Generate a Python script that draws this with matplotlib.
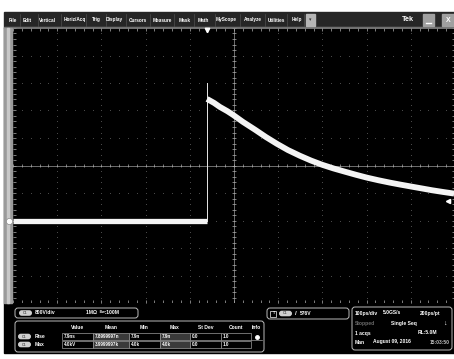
import numpy as np
import matplotlib.pyplot as plt
from matplotlib.patches import Rectangle, FancyBboxPatch

# waveform (time in ps, amplitude in V)
base_t = [-500, -61]
base_v = [0, 0]
rise_t = [-61, -61]
rise_v = [0, 4000]
decay_t = [-61, -45, -32, -15, -2, 20, 48, 72, 97, 122, 149, 174, 199, 225, 251,
           276, 301, 327, 353, 376, 400, 424, 448, 473, 498]
decay_v = [3536, 3420, 3304, 3180, 3072, 2870, 2638, 2430, 2232, 2050, 1884, 1745, 1623,
           1515, 1420, 1330, 1246, 1170, 1101, 1045, 990, 935, 880, 830, 783]
trig_level = 576
volts_div = 800
time_div = 100

menu_items = ['File', 'Edit', 'Vertical', 'Horiz/Acq', 'Trig', 'Display', 'Cursors',
              'Measure', 'Mask', 'Math', 'MyScope', 'Analyze', 'Utilities', 'Help']
menu_x = [13, 27.5, 47.5, 74.5, 96.5, 114.5, 138, 162.5, 185, 203.5, 226.5, 253, 276.5, 296.5]

meas_cols = ['Value', 'Mean', 'Min', 'Max', 'St Dev', 'Count', 'Info']
meas_rows = ['Rise', 'Max']
meas_vals = [['7.9ns', '7.8999997n', '7.9n', '7.9n', '0.0', '1.0'],
             ['4.0kV', '3.9999997k', '4.0k', '4.0k', '0.0', '1.0']]

FONT = 'Liberation Sans'

fig = plt.figure(figsize=(4.54, 3.59), dpi=100, facecolor='white')

# screen chrome in pixel coordinates
ui = fig.add_axes([0, 0, 1, 1])
ui.set_xlim(0, 454)
ui.set_ylim(359, 0)
ui.axis('off')

ui.add_patch(Rectangle((4, 12), 450, 16, color='#262626'))
ui.add_patch(Rectangle((4, 27), 450, 1, color='#8c8c8c'))
ui.add_patch(Rectangle((4, 28), 450, 325, color='black'))
ui.add_patch(Rectangle((4, 28), 8, 275, color='#9a9a9a'))
ui.add_patch(Rectangle((7, 28), 2, 275, color='#c8c8c8'))

for name, x in zip(menu_items, menu_x):
    ui.text(x, 20, name, color='white', fontsize=3.4, fontweight='bold',
            family=FONT, ha='center', va='center')
seps = [(menu_x[i] + menu_x[i + 1]) / 2 for i in range(len(menu_x) - 1)] + [304]
for s in seps:
    ui.plot([s, s], [14, 26], color='#5a5a5a', lw=0.4)
ui.add_patch(Rectangle((306, 14), 9, 12, color='#b5b5b5'))
ui.text(310.5, 20, '\u25be', color='#333333', fontsize=3.5, ha='center', va='center')
ui.text(408, 19.5, 'Tek', color='white', fontsize=5.2, fontweight='bold',
        family=FONT, ha='center', va='center')
ui.add_patch(Rectangle((423, 14), 11, 12, color='#a0a0a0'))
ui.add_patch(Rectangle((442, 14), 12, 12, color='#a0a0a0'))
ui.plot([426, 431], [23, 23], color='white', lw=1)
ui.text(448, 20, 'X', color='white', fontsize=5, fontweight='bold',
        family=FONT, ha='center', va='center')


def box(x, y, w, h, ec='#bdbdbd', fc='black', r=3, lw=0.7):
    ui.add_patch(FancyBboxPatch((x, y), w, h, boxstyle='round,pad=0,rounding_size=%d' % r,
                                ec=ec, fc=fc, lw=lw))


def pill(x, y, label='C1'):
    ui.add_patch(FancyBboxPatch((x, y - 2.8), 13, 5.6, boxstyle='round,pad=0,rounding_size=2.8',
                                ec='none', fc='#d0d0d0'))
    ui.text(x + 6.5, y, label, color='#555555', fontsize=2.6, fontweight='bold',
            family=FONT, ha='center', va='center')


def txt(x, y, s, ha='left', color='white', size=3.6):
    ui.text(x, y, s, color=color, fontsize=size, fontweight='bold',
            family=FONT, ha=ha, va='center')


# channel box
box(15, 308, 123, 10)
pill(19, 313)
txt(35, 313, '%dV/div' % volts_div)
txt(86, 313, '1M\u03a9  \u1d2e\u02b7:100M')

# measurement box
box(15, 321, 249, 31)
col_edges = [62, 93, 129, 160, 190, 221, 251, 262]
for j, c in enumerate(meas_cols):
    txt((col_edges[j] + col_edges[j + 1]) / 2, 327.5, c, ha='center')
for i, (rname, vals) in enumerate(zip(meas_rows, meas_vals)):
    yc = 336.5 + i * 8
    pill(18, yc)
    txt(35, yc, rname)
    for j, v in enumerate(vals):
        fc = '#3a3a3a' if j in (1, 3) else 'black'
        ui.add_patch(Rectangle((col_edges[j], yc - 3.8), col_edges[j + 1] - col_edges[j], 7.6,
                               ec='#9a9a9a', fc=fc, lw=0.5))
        txt(col_edges[j] + 1.5, yc, v, size=3.3)
ui.plot(257, 336.5, 'o', ms=2.5, color='white')
ui.plot([251, 262], [340.3, 340.3], color='#9a9a9a', lw=0.5)

# trigger box
box(267, 308, 82, 11)
ui.add_patch(Rectangle((270, 310.5), 6, 6, ec='#cfcfcf', fc='black', lw=0.6))
txt(273, 313.5, 'T', size=2.6)
pill(279, 313.5)
txt(295, 313.5, '/', size=4.5)
txt(300, 313.5, '%dV' % trig_level)

# timebase box
box(352, 307, 100, 43)
txt(355, 313, '%dps/div' % time_div)
txt(383, 313, '5.0GS/s')
txt(440, 313, '200ps/pt', ha='right')
txt(355, 323, 'Stopped', color='#6e6e6e')
txt(404, 323, 'Single Seq', ha='center')
txt(445, 323, '\u2193', ha='center', size=5)
txt(355, 333, '1 acqs')
txt(437, 333, 'RL:5.0M', ha='right')
txt(355, 342, 'Man')
txt(373, 342, 'August 09, 2016')
txt(450, 342, '15:03:50', ha='right', color='#bdbdbd')

# graticule + waveform
ax = fig.add_axes([13 / 454, 1 - 303 / 359, 442 / 454, 275 / 359])
ax.set_facecolor('none')
ax.set_xlim(-5 * time_div, 5 * time_div)
ymid = 2 * volts_div
ax.set_ylim(ymid - 5 * volts_div, ymid + 5 * volts_div)
for s in ax.spines.values():
    s.set_visible(False)
ax.set_xticks([])
ax.set_yticks([])

px_t = time_div / 44.2
px_v = volts_div / 27.5
tx = np.arange(-5 * time_div, 5 * time_div + 1, time_div / 5)
ty = np.arange(ymid - 5 * volts_div, ymid + 5 * volts_div + 1, volts_div / 5)

# dotted grid: one dot per minor step along each division line
gcol = '#4a4a4a'
for k in range(-4, 5):
    if k == 0:
        continue
    ax.plot(np.full(len(ty), k * time_div), ty, ls='none', marker='s', ms=0.7,
            mew=0, color=gcol)
    ax.plot(tx, np.full(len(tx), ymid + k * volts_div), ls='none', marker='s', ms=0.7,
            mew=0, color=gcol)
ax.axvline(0, color='#9a9a9a', lw=0.5)
ax.axhline(ymid, color='#9a9a9a', lw=0.5)

tcol = '#b0b0b0'
ax.vlines(tx, ymid - 1.8 * px_v, ymid + 1.8 * px_v, color=tcol, lw=0.5)
ax.hlines(ty, -1.8 * px_t, 1.8 * px_t, color=tcol, lw=0.5)
top, bot = ymid + 5 * volts_div, ymid - 5 * volts_div
ax.vlines(tx, top - 3 * px_v, top, color=tcol, lw=0.5)
ax.vlines(tx, bot, bot + 3 * px_v, color=tcol, lw=0.5)
ax.hlines(ty, -5 * time_div, -5 * time_div + 3 * px_t, color=tcol, lw=0.5)
ax.hlines(ty, 5 * time_div - 3 * px_t, 5 * time_div, color=tcol, lw=0.5)
ax.axhline(top, color='#888888', lw=0.6)

ax.plot(base_t, base_v, color='#f4f4f4', lw=3.8, solid_capstyle='butt')
ax.plot(rise_t, rise_v, color='#e8e8e8', lw=0.7)
ax.plot(decay_t, decay_v, color='#f4f4f4', lw=4.2, solid_capstyle='butt',
        solid_joinstyle='round')

# markers: ground, trigger level, trigger position
ax.plot(-5 * time_div - 4.3 * px_t, 0, 'o', ms=4.5, mfc='white', mec='#888888',
        mew=0.5, clip_on=False)
ax.plot(4.85 * time_div, trig_level, '<', ms=3, color='white', clip_on=False)
ax.plot(rise_t[0], top - 2 * px_v, 'v', ms=3.2, color='white', clip_on=False)

fig.savefig('out.png', dpi=100, facecolor='white')
